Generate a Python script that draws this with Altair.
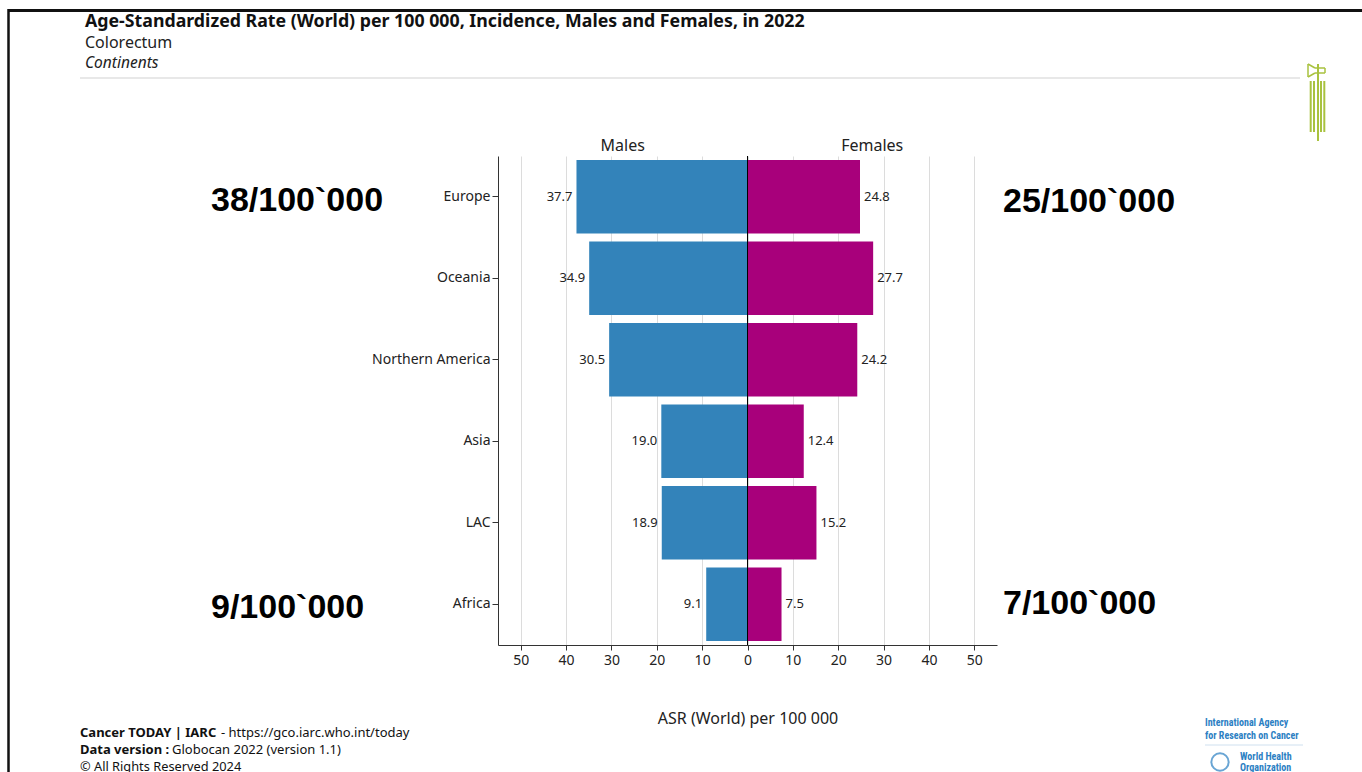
import altair as alt
import pandas as pd

continents = ["Europe", "Oceania", "Northern America", "Asia", "LAC", "Africa"]
males = [37.7, 34.9, 30.5, 19.0, 18.9, 9.1]
females = [24.8, 27.7, 24.2, 12.4, 15.2, 7.5]
x_ticks = [-50, -40, -30, -20, -10, 0, 10, 20, 30, 40, 50]
side_headers = ["Males", "Females"]
header_pos = [-27.5, 27.5]

title_main = "Age-Standardized Rate (World) per 100 000, Incidence, Males and Females, in 2022"
subtitle_1 = "Colorectum"
subtitle_2 = "Continents"
axis_title = "ASR (World) per 100 000"
big_notes = ["38/100`000", "25/100`000", "9/100`000", "7/100`000"]

MALE_C = "#3383BA"
FEMALE_C = "#A8007B"
FONT = "Noto Sans"
LOGO_FONT = "Roboto Condensed, Liberation Sans Narrow, Roboto, sans-serif"

OX, OY = 498, 156       # plot origin in the page
W, H = 499, 489

rows = []
for c, m, f in zip(continents, males, females):
    rows.append({"continent": c, "sex": "Males", "value": m, "signed": -m})
    rows.append({"continent": c, "sex": "Females", "value": f, "signed": f})
df = pd.DataFrame(rows)

xscale = alt.Scale(domain=[-55, 55], nice=False, zero=False)
yscale = alt.Scale(domain=continents, paddingInner=0.1, paddingOuter=0.05)

base = alt.Chart(df)

bars = base.mark_bar().encode(
    x=alt.X("signed:Q", scale=xscale,
            axis=alt.Axis(values=x_ticks, labelExpr="abs(datum.value)", grid=True,
                          gridColor="#dcdcdc", gridWidth=1, domainColor="#333333",
                          tickColor="#333333", tickSize=5, labelFontSize=14,
                          labelColor="#222222", labelPadding=3, labelFont=FONT,
                          title=axis_title, titleFont=FONT, titleFontSize=16,
                          titleFontWeight="normal", titleColor="#222222",
                          titlePadding=43)),
    y=alt.Y("continent:N", scale=yscale, sort=continents,
            axis=alt.Axis(title=None, grid=False, domainColor="#333333",
                          tickColor="#333333", tickSize=6, labelPadding=2,
                          labelFontSize=14, labelFont=FONT, labelColor="#222222")),
    color=alt.Color("sex:N", scale=alt.Scale(domain=["Males", "Females"],
                                             range=[MALE_C, FEMALE_C]), legend=None),
)

male_lbl = base.transform_filter("datum.sex == 'Males'").mark_text(
    align="right", dx=-4, fontSize=13, font=FONT, color="#222222"
).encode(x=alt.X("signed:Q", scale=xscale), y=alt.Y("continent:N", scale=yscale, sort=continents),
         text=alt.Text("value:Q", format=".1f"))

female_lbl = base.transform_filter("datum.sex == 'Females'").mark_text(
    align="left", dx=4, fontSize=13, font=FONT, color="#222222"
).encode(x=alt.X("signed:Q", scale=xscale), y=alt.Y("continent:N", scale=yscale, sort=continents),
         text=alt.Text("value:Q", format=".1f"))

zero_line = alt.Chart(pd.DataFrame({"z": [0]})).mark_rule(color="black", strokeWidth=1).encode(
    x=alt.X("z:Q", scale=xscale), y=alt.value(0), y2=alt.value(H))

headers = alt.Chart(pd.DataFrame({"h": side_headers, "p": header_pos})).mark_text(
    fontSize=16, font=FONT, color="#222222", baseline="middle"
).encode(x=alt.X("p:Q", scale=xscale), y=alt.value(-10), text="h:N")


def txt(label, x, y, size, weight="normal", style="normal", color="#222222",
        font=FONT, align="left"):
    return alt.Chart(pd.DataFrame({"t": [label]})).mark_text(
        align=align, baseline="middle", fontSize=size, fontWeight=weight,
        fontStyle=style, color=color, font=font
    ).encode(x=alt.value(x - OX), y=alt.value(y - OY), text="t:N")


def line(x1, y1, x2, y2, color, width):
    return alt.Chart(pd.DataFrame({"d": [0]})).mark_rule(
        color=color, strokeWidth=width
    ).encode(x=alt.value(x1 - OX), x2=alt.value(x2 - OX),
             y=alt.value(y1 - OY), y2=alt.value(y2 - OY))


deco = [
    line(8, 10.5, 1362, 10.5, "#111111", 3),
    line(8.5, 9, 8.5, 772, "#111111", 2.5),
    line(80, 78, 1300, 78, "#e0e0e0", 1.5),
    txt(title_main, 85, 22, 17.75, weight="bold", color="#111111"),
    txt(subtitle_1, 85, 43, 16),
    txt(subtitle_2, 85, 63, 15.5, style="italic"),
    txt(big_notes[0], 211, 201, 34, weight="bold", color="#000000", font="Liberation Sans"),
    txt(big_notes[1], 1003, 202, 34, weight="bold", color="#000000", font="Liberation Sans"),
    txt(big_notes[2], 211, 608, 34, weight="bold", color="#000000", font="Liberation Sans"),
    txt(big_notes[3], 1003, 604, 34, weight="bold", color="#000000", font="Liberation Sans"),
    txt("Cancer TODAY | IARC", 80, 733, 13, weight="bold", color="#111111"),
    txt("- https://gco.iarc.who.int/today", 221, 733, 13, color="#111111"),
    txt("Data version :", 80, 750, 13, weight="bold", color="#111111"),
    txt("Globocan 2022 (version 1.1)", 172, 750, 13, color="#111111"),
    txt("\u00a9 All Rights Reserved 2024", 80, 767, 12.8, color="#111111"),
    txt("International Agency", 1205, 723, 10, weight="bold", color="#2b80c3", font=LOGO_FONT),
    txt("for Research on Cancer", 1205, 736, 10, weight="bold", color="#2b80c3", font=LOGO_FONT),
    line(1205, 745, 1303, 745, "#cfe0ef", 1),
    txt("World Health", 1240, 756.5, 10, weight="bold", color="#2b80c3", font=LOGO_FONT),
    txt("Organization", 1240, 767.5, 10, weight="bold", color="#2b80c3", font=LOGO_FONT),
    alt.Chart(pd.DataFrame({"d": [0]})).mark_point(
        shape="circle", size=300, filled=False, color="#2b80c3", strokeWidth=2
    ).encode(x=alt.value(1220 - OX), y=alt.value(762 - OY)),
    # green logo
    line(1310.7, 81, 1310.7, 132, "#a9c23f", 2),
    line(1314, 81, 1314, 132, "#a9c23f", 2),
    line(1318, 64, 1318, 141, "#a9c23f", 2),
    line(1321, 81, 1321, 132, "#a9c23f", 2),
    line(1324.3, 81, 1324.3, 132, "#a9c23f", 2),
    line(1308, 64, 1308, 77, "#a9c23f", 1.5),
    line(1308, 64, 1315, 68, "#a9c23f", 1.5),
    line(1308, 77, 1315, 73, "#a9c23f", 1.5),
    line(1315, 68, 1325, 68, "#a9c23f", 1.5),
    line(1315, 73, 1325, 73, "#a9c23f", 1.5),
    line(1325, 68, 1325, 73, "#a9c23f", 1.5),
]

chart = alt.layer(bars, zero_line, male_lbl, female_lbl, headers, *deco).properties(
    width=W, height=H,
    autosize=alt.AutoSizeParams(type="none"),
    padding={"left": OX, "top": OY, "right": 1362 - OX - W, "bottom": 772 - OY - H},
    background="white",
).configure_view(stroke=None)

chart.save("out.html", embed_options={"renderer": "svg", "actions": False})
